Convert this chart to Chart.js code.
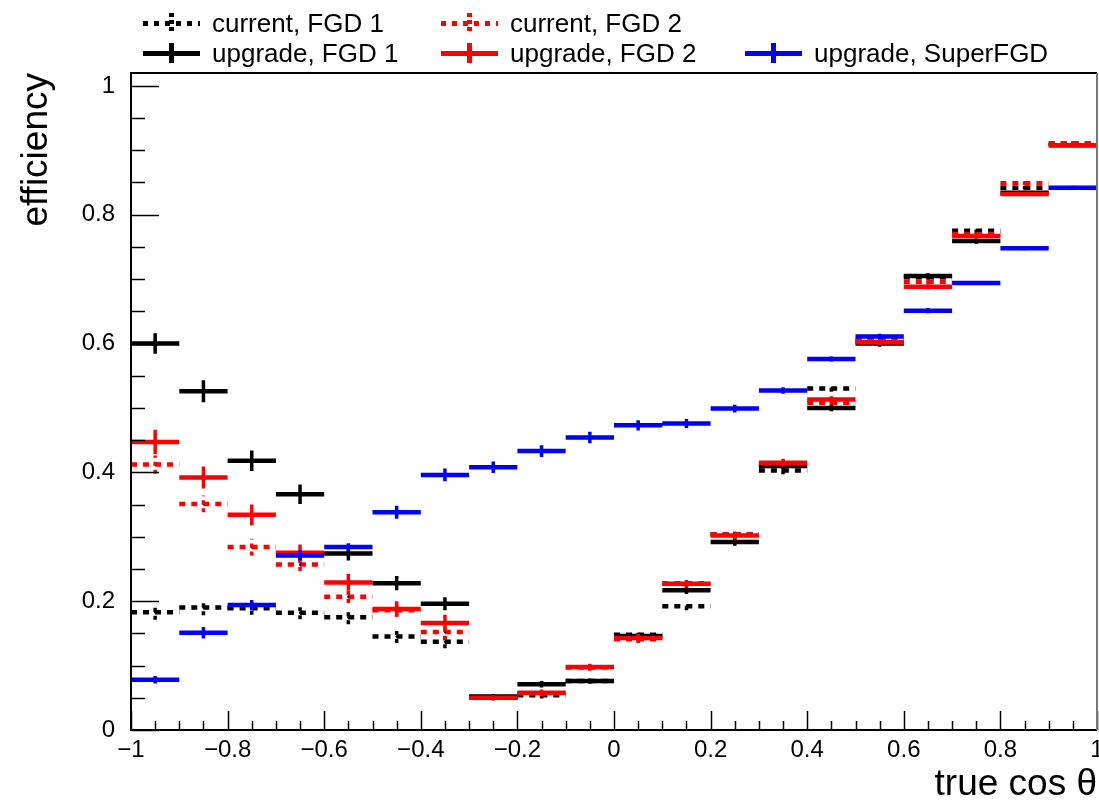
<!DOCTYPE html>
<html>
<head>
<meta charset="utf-8">
<script src="https://cdn.jsdelivr.net/npm/chart.js@4.4.1/dist/chart.umd.min.js"></script>
<style>
  body { margin: 0; background: #fff; }
  #wrap { position: relative; width: 1099px; height: 803px; }
  .leg-item { position: absolute; height: 30px; font-family: "Liberation Sans", Arial, Helvetica, sans-serif; font-size: 26px; color: #000; white-space: nowrap; }
  .leg-h { position: absolute; left: 0; top: 13px; width: 57px; height: 5px; }
  .leg-v { position: absolute; left: 26px; top: 5px; width: 5px; height: 20px; }
  .leg-text { position: absolute; left: 69px; top: 0; line-height: 30px; }
</style>
</head>
<body>
<div id="wrap">
  <canvas id="chart"></canvas>
  <div id="legend"></div>
</div>
<script>
// bins in true cos theta, width 0.1
const binCenters = [-0.95, -0.85, -0.75, -0.65, -0.55, -0.45, -0.35, -0.25, -0.15, -0.05, 0.05, 0.15, 0.25, 0.35, 0.45, 0.55, 0.65, 0.75, 0.85, 0.95];
const binHalfWidth = 0.05;

const currentFGD1 = [0.183, 0.190, 0.189, 0.182, 0.175, 0.145, 0.137, 0.050, 0.054, 0.076, 0.148, 0.192, 0.304, 0.403, 0.530, 0.604, 0.703, 0.775, 0.842, 0.910];
const currentFGD1Err = [0.012, 0.012, 0.010, 0.010, 0.011, 0.010, 0.010, 0.004, 0.005, 0.004, 0.005, 0.006, 0.006, 0.006, 0.005, 0.005, 0.004, 0.004, 0.003, 0.003];

const currentFGD2 = [0.412, 0.351, 0.284, 0.257, 0.207, 0.186, 0.152, 0.050, 0.057, 0.097, 0.141, 0.228, 0.304, 0.413, 0.508, 0.605, 0.696, 0.770, 0.849, 0.911];
const currentFGD2Err = [0.014, 0.013, 0.013, 0.010, 0.010, 0.010, 0.012, 0.004, 0.005, 0.005, 0.006, 0.006, 0.006, 0.006, 0.005, 0.005, 0.004, 0.004, 0.003, 0.003];

const upgradeFGD1 = [0.600, 0.526, 0.418, 0.366, 0.274, 0.228, 0.196, 0.052, 0.071, 0.076, 0.146, 0.217, 0.292, 0.410, 0.500, 0.600, 0.705, 0.759, 0.834, 0.908];
const upgradeFGD1Err = [0.016, 0.017, 0.016, 0.015, 0.011, 0.011, 0.010, 0.004, 0.005, 0.004, 0.005, 0.006, 0.006, 0.006, 0.005, 0.005, 0.004, 0.004, 0.003, 0.003];

const upgradeFGD2 = [0.447, 0.392, 0.334, 0.275, 0.229, 0.188, 0.166, 0.050, 0.058, 0.098, 0.143, 0.227, 0.302, 0.415, 0.513, 0.602, 0.688, 0.767, 0.832, 0.908];
const upgradeFGD2Err = [0.019, 0.017, 0.016, 0.013, 0.013, 0.012, 0.013, 0.004, 0.005, 0.005, 0.006, 0.006, 0.006, 0.006, 0.005, 0.005, 0.004, 0.004, 0.003, 0.003];

const upgradeSuperFGD = [0.078, 0.151, 0.194, 0.271, 0.284, 0.338, 0.396, 0.408, 0.433, 0.454, 0.473, 0.476, 0.499, 0.527, 0.576, 0.611, 0.651, 0.694, 0.748, 0.842];
const upgradeSuperFGDErr = [0.006, 0.009, 0.008, 0.008, 0.006, 0.010, 0.010, 0.009, 0.009, 0.009, 0.008, 0.007, 0.006, 0.005, 0.004, 0.004, 0.004, 0.003, 0.003, 0.003];

const xTickValues = [-1, -0.8, -0.6, -0.4, -0.2, 0, 0.2, 0.4, 0.6, 0.8, 1];
const yTickValues = [0, 0.2, 0.4, 0.6, 0.8, 1];

const FONT = '"Liberation Sans", Arial, Helvetica, sans-serif';

// drawn top first
const series = [
  { label: "upgrade, SuperFGD", values: upgradeSuperFGD, errs: upgradeSuperFGDErr, color: "#0000ff", dashed: false },
  { label: "upgrade, FGD 2", values: upgradeFGD2, errs: upgradeFGD2Err, color: "#ff0000", dashed: false },
  { label: "upgrade, FGD 1", values: upgradeFGD1, errs: upgradeFGD1Err, color: "#000000", dashed: false },
  { label: "current, FGD 2", values: currentFGD2, errs: currentFGD2Err, color: "#ff0000", dashed: true },
  { label: "current, FGD 1", values: currentFGD1, errs: currentFGD1Err, color: "#000000", dashed: true },
];

const hBars = (values) => {
  const pts = [];
  values.forEach((v, i) => {
    const c = binCenters[i];
    pts.push({ x: c - binHalfWidth, y: v }, { x: c, y: v }, { x: c + binHalfWidth, y: v }, { x: c, y: null });
  });
  return pts;
};

const vBars = (values, errs) => {
  const pts = [];
  values.forEach((v, i) => {
    const c = binCenters[i];
    pts.push({ x: c, y: v - errs[i] }, { x: c, y: v + errs[i] }, { x: c, y: null });
  });
  return pts;
};

const fmtNum = (v) => String(Math.round(v * 10) / 10).replace("-", "\u2212");

const datasets = [];
series.forEach((s) => {
  datasets.push({
    label: s.label + " err",
    data: vBars(s.values, s.errs),
    borderColor: s.color,
    borderWidth: 3.5,
    borderDash: s.dashed ? [4, 4] : [],
    borderCapStyle: "butt",
    pointRadius: 0,
    spanGaps: false,
  });
  datasets.push({
    label: s.label,
    data: hBars(s.values),
    borderColor: s.color,
    borderWidth: 4.5,
    borderDash: s.dashed ? [6, 6] : [],
    borderCapStyle: "butt",
    pointRadius: (ctx) => (ctx.dataIndex % 4 === 1 ? 1.2 : 0),
    pointBackgroundColor: "#000",
    pointBorderWidth: 0,
    spanGaps: false,
  });
});

// frame and inside ticks, ROOT style
const frameTicks = {
  id: "frameTicks",
  afterDraw(chart) {
    const { ctx, chartArea: a, scales } = chart;
    const x = scales.x, y = scales.y;
    ctx.save();
    ctx.strokeStyle = "#000";
    ctx.lineWidth = 1.5;
    for (let i = 0; i <= 20; i++) {
      const v = i * 0.05;
      if (v > y.max) break;
      const py = Math.round(y.getPixelForValue(v)) + 0.5;
      const len = i % 4 === 0 ? 28 : 14;
      ctx.beginPath();
      ctx.moveTo(a.left, py);
      ctx.lineTo(a.left + len, py);
      ctx.stroke();
    }
    for (let i = 0; i <= 40; i++) {
      const v = -1 + i * 0.05;
      const px = Math.round(x.getPixelForValue(v)) + 0.5;
      const len = i % 4 === 0 ? 19 : 9;
      ctx.beginPath();
      ctx.moveTo(px, a.bottom);
      ctx.lineTo(px, a.bottom - len);
      ctx.stroke();
    }
    ctx.lineWidth = 2;
    ctx.beginPath();
    ctx.moveTo(a.right, a.top);
    ctx.lineTo(a.left, a.top);
    ctx.lineTo(a.left, a.bottom);
    ctx.lineTo(a.right, a.bottom);
    ctx.stroke();
    ctx.strokeStyle = "#777";
    ctx.beginPath();
    ctx.moveTo(a.right, a.top);
    ctx.lineTo(a.right, a.bottom);
    ctx.stroke();
    ctx.restore();
  },
};

const ctx = document.getElementById("chart").getContext("2d");
new Chart(ctx, {
  type: "line",
  data: { datasets: datasets },
  options: {
    responsive: true,
    maintainAspectRatio: false,
    animation: false,
    layout: { padding: { top: 73, right: 2, left: 0, bottom: 0 } },
    plugins: { legend: { display: false }, tooltip: { enabled: false } },
    scales: {
      x: {
        type: "linear",
        min: -1,
        max: 1,
        grid: { display: false, drawTicks: false },
        border: { display: false },
        afterBuildTicks: (scale) => {
          scale.ticks = xTickValues.map((v) => ({ value: v }));
        },
        afterFit: (scale) => {
          scale.height = 73;
          scale.paddingLeft = 0;
          scale.paddingRight = 0;
        },
        ticks: {
          padding: 6,
          maxRotation: 0,
          autoSkip: false,
          color: "#000",
          font: { family: FONT, size: 24 },
          callback: (v) => fmtNum(v),
        },
        title: {
          display: true,
          text: "true cos \u03b8",
          align: "end",
          color: "#000",
          font: { family: FONT, size: 37, lineHeight: 1.0 },
          padding: 0,
        },
      },
      y: {
        type: "linear",
        min: 0,
        max: 1.02,
        grid: { display: false, drawTicks: false },
        border: { display: false },
        afterBuildTicks: (scale) => {
          scale.ticks = yTickValues.map((v) => ({ value: v }));
        },
        afterFit: (scale) => {
          scale.width = 131;
          scale.paddingTop = 0;
          scale.paddingBottom = 0;
        },
        ticks: {
          padding: 16,
          color: "#000",
          font: { family: FONT, size: 24 },
          callback: (v) => fmtNum(v),
        },
        title: {
          display: true,
          text: "efficiency",
          align: "end",
          color: "#000",
          font: { family: FONT, size: 37, lineHeight: 1.2 },
          padding: { top: 15, bottom: 0 },
        },
      },
    },
  },
  plugins: [frameTicks],
});

// legend, two rows like the ROOT TLegend
const legendPos = {
  "current, FGD 1": [143, 8],
  "current, FGD 2": [441, 8],
  "upgrade, FGD 1": [143, 38],
  "upgrade, FGD 2": [441, 38],
  "upgrade, SuperFGD": [745, 38],
};
const legend = document.getElementById("legend");
series.forEach((s) => {
  const pos = legendPos[s.label];
  const item = document.createElement("div");
  item.className = "leg-item";
  item.style.left = pos[0] + "px";
  item.style.top = pos[1] + "px";
  const h = document.createElement("div");
  h.className = "leg-h";
  const v = document.createElement("div");
  v.className = "leg-v";
  if (s.dashed) {
    h.style.background = `repeating-linear-gradient(to right, ${s.color} 0 5px, transparent 5px 11px)`;
    v.style.background = `repeating-linear-gradient(to bottom, ${s.color} 0 4px, transparent 4px 7px)`;
  } else {
    h.style.background = s.color;
    v.style.background = s.color;
  }
  const t = document.createElement("span");
  t.className = "leg-text";
  t.textContent = s.label;
  item.appendChild(h);
  item.appendChild(v);
  item.appendChild(t);
  legend.appendChild(item);
});
</script>
</body>
</html>
